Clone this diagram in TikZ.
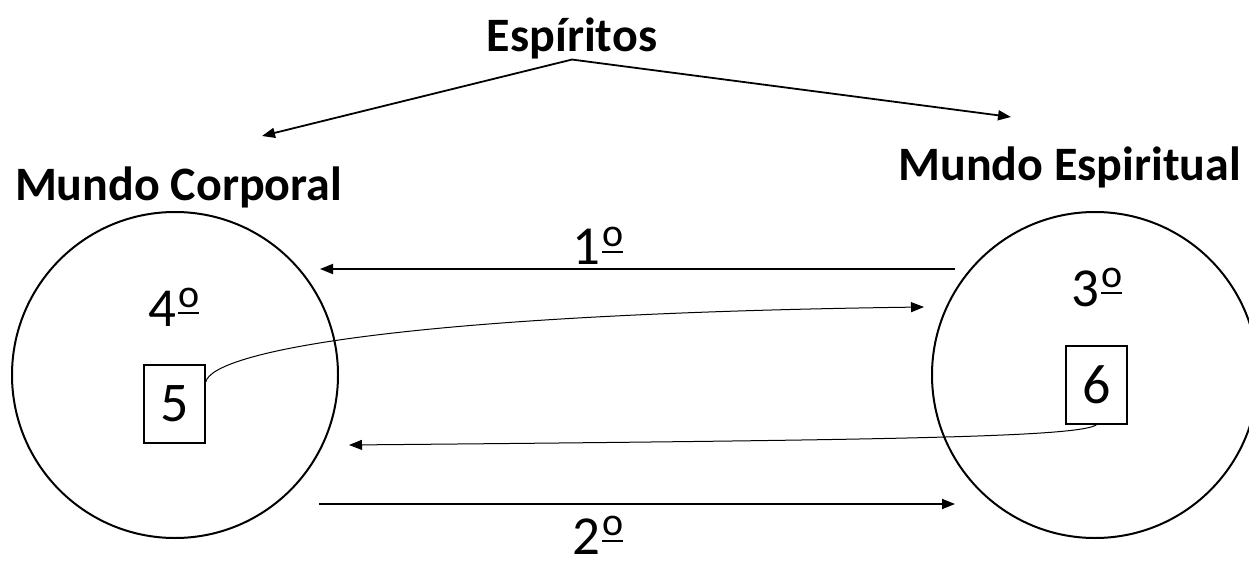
\documentclass[tikz,border=0pt]{standalone}
\usepackage{fontspec}
\setmainfont{Carlito}
\usetikzlibrary{arrows.meta}
\newcommand\ordm{\setbox0\hbox{\fontsize{40}{40}\selectfont o}\kern1.5pt\raisebox{18.5pt}{\copy0}\kern-\wd0\rule[12pt]{\wd0}{2.4pt}}
\begin{document}
\begin{tikzpicture}[x=1pt,y=-1pt,
  title/.style={font=\fontsize{48}{50}\selectfont\bfseries, inner sep=0pt, outer sep=0pt},
  num/.style={font=\fontsize{55}{58}\selectfont, inner sep=0pt},
  world/.style={draw, circle, line width=2pt, minimum size=326pt, inner sep=0pt},
  nbox/.style={draw, line width=1.6pt, minimum width=61pt, minimum height=78pt, inner sep=0pt, font=\fontsize{56}{60}\selectfont},
  arr/.style={line width=1.8pt, -{Triangle[length=13pt,width=10pt]}},
  thinarr/.style={line width=1pt, -{Triangle[length=13pt,width=10pt]}}
]
\useasboundingbox (0,0) rectangle (1249,561);
\clip (0,0) rectangle (1249,561);
% titles
\node[title, anchor=base] (esp) at (572,52) {Espíritos};
\node[title, anchor=base west] (mc) at (15,201) {Mundo Corporal};
\node[title, anchor=base east] (me) at (1241,181) {Mundo Espiritual};
\coordinate (tipL) at (262,136);
\coordinate (tipR) at (1011,117);
\draw[arr] (esp.south) -- (tipL);
\draw[arr] (esp.south) -- (tipR);
% worlds
\node[world] (cw) at (175,375) {};
\node[world] (sw) at (1095,375) {};
% labels
\node[num, anchor=base] (n4) at (174,326) {4\ordm};
\node[num, anchor=base] (n3) at (1097,306) {3\ordm};
\node[nbox] (b5) at (174.5,404) {5};
\node[nbox] (b6) at (1096.5,385) {6};
% arrows between worlds
\coordinate (a1s) at (955,269);
\coordinate (a1e) at (320,269);
\coordinate (a2s) at (319,504);
\coordinate (a2e) at (955,504);
\draw[arr] (a1s) -- (a1e);
\draw[arr] (a2s) -- (a2e);
\node[num, anchor=base] (n1) at (598,265) {1\ordm};
\node[num, anchor=base] (n2) at (598,554) {2\ordm};
% curves
\coordinate (c5e) at (924,307);
\coordinate (c6e) at (349,445);
\draw[thinarr] (b5.east |- 0,382) .. controls (212,352) and (400,314) .. (c5e);
\draw[thinarr] (b6.south) .. controls (1078,437) and (900,440) .. (c6e);
\end{tikzpicture}
\end{document}
